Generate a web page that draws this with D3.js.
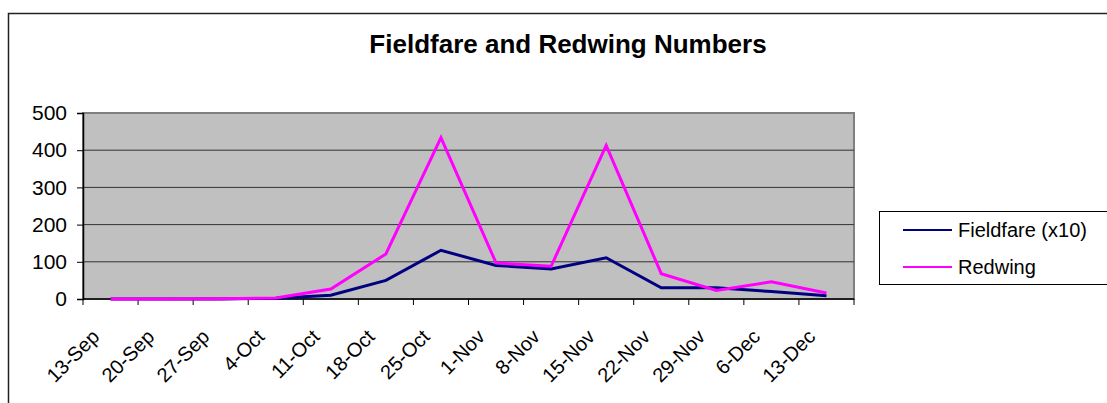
<!DOCTYPE html>
<html>
<head>
<meta charset="utf-8">
<script src="https://cdn.jsdelivr.net/npm/d3@7"></script>
<style>
  body { margin: 0; background: #fff; }
  svg text { font-family: "Liberation Sans", Arial, sans-serif; fill: #000; }
</style>
</head>
<body>
<svg id="chart" width="1107" height="403"></svg>
<script>

// === Data === //

var weeks = ['13-Sep', '20-Sep', '27-Sep', '4-Oct', '11-Oct', '18-Oct', '25-Oct',
	'1-Nov', '8-Nov', '15-Nov', '22-Nov', '29-Nov', '6-Dec', '13-Dec'];

var fieldfare = [0, 0, 0, 2, 10, 50, 131, 90, 81, 111, 30, 30, 20, 9]; // (x10)
var redwing = [0, 0, 1, 3, 27, 121, 434, 97, 88, 413, 68, 23, 46, 16];

var yTicks = [0, 100, 200, 300, 400, 500];

var series = [
	{ name: 'Fieldfare (x10)', values: fieldfare, colour: '#000080' },
	{ name: 'Redwing', values: redwing, colour: '#ff00ff' }
];


// === Layout === //

var plot = { left: 83, right: 854, top: 113, bottom: 299 };

var svg = d3.select('#chart');

// outer chart border (runs off the right and bottom edge)
svg.append('rect')
	.attr('x', 8.5).attr('y', 13.5)
	.attr('width', 1120).attr('height', 420)
	.attr('fill', 'none')
	.attr('stroke', '#222')
	.attr('stroke-width', 1.5);

svg.append('text')
	.attr('x', 568).attr('y', 53)
	.attr('text-anchor', 'middle')
	.style('font-size', '26px')
	.style('font-weight', 'bold')
	.text('Fieldfare and Redwing Numbers');


// === Scales === //

var x = d3.scaleBand()
	.domain(weeks)
	.range([plot.left, plot.right])
	.padding(0);

var y = d3.scaleLinear()
	.domain([0, 500])
	.range([plot.bottom, plot.top]);


// plot background
svg.append('rect')
	.attr('x', plot.left).attr('y', plot.top)
	.attr('width', plot.right - plot.left)
	.attr('height', plot.bottom - plot.top)
	.attr('fill', '#c0c0c0')
	.attr('stroke', '#808080')
	.attr('stroke-width', 2);

// gridlines
svg.append('g')
	.selectAll('line')
	.data(yTicks.filter(function(d) { return d > 0 && d < 500; }))
	.join('line')
	.attr('x1', plot.left).attr('x2', plot.right)
	.attr('y1', function(d) { return y(d); })
	.attr('y2', function(d) { return y(d); })
	.attr('stroke', '#333')
	.attr('stroke-width', 1);


// === Axes === //

var yAxis = svg.append('g')
	.attr('transform', 'translate(' + plot.left + ',0)')
	.call(d3.axisLeft(y).tickValues(yTicks).tickSize(6).tickPadding(10).tickFormat(d3.format('d')));

yAxis.select('.domain').attr('stroke', '#000').attr('stroke-width', 1.5);
yAxis.selectAll('.tick line').attr('stroke', '#000');
yAxis.selectAll('.tick text')
	.style('font-size', '21px')
	.attr('font-family', null);

// x axis: ticks sit on the band edges, labels at band centre
var xg = svg.append('g');

xg.append('line')
	.attr('x1', plot.left).attr('x2', plot.right)
	.attr('y1', plot.bottom).attr('y2', plot.bottom)
	.attr('stroke', '#000').attr('stroke-width', 1.5);

var edges = weeks.map(function(d) { return x(d); }).concat([plot.right]);

xg.selectAll('line.tick')
	.data(edges)
	.join('line')
	.attr('class', 'tick')
	.attr('x1', function(d) { return d; })
	.attr('x2', function(d) { return d; })
	.attr('y1', plot.bottom).attr('y2', plot.bottom + 6)
	.attr('stroke', '#000');

xg.selectAll('text')
	.data(weeks)
	.join('text')
	.attr('text-anchor', 'end')
	.style('font-size', '20px')
	.attr('transform', function(d) {
		var cx = x(d) + x.bandwidth() / 2 - 10;
		return 'translate(' + cx + ',338) rotate(-45)';
	})
	.text(function(d) { return d; });


// === Lines === //

var line = d3.line()
	.x(function(d, i) { return x(weeks[i]) + x.bandwidth() / 2; })
	.y(function(d) { return y(d); });

svg.append('g')
	.selectAll('path')
	.data(series)
	.join('path')
	.attr('d', function(s) { return line(s.values); })
	.attr('fill', 'none')
	.attr('stroke', function(s) { return s.colour; })
	.attr('stroke-width', 3)
	.attr('stroke-linejoin', 'miter');


// === Legend === //

var legend = svg.append('g');

legend.append('rect')
	.attr('x', 879.5).attr('y', 211.5)
	.attr('width', 240).attr('height', 73)
	.attr('fill', '#fff')
	.attr('stroke', '#000')
	.attr('stroke-width', 1);

var rows = legend.selectAll('g.row')
	.data(series)
	.join('g')
	.attr('class', 'row')
	.attr('transform', function(d, i) { return 'translate(0,' + (230 + i * 37) + ')'; });

rows.append('line')
	.attr('x1', 903).attr('x2', 952)
	.attr('stroke', function(d) { return d.colour; })
	.attr('stroke-width', 2);

rows.append('text')
	.attr('x', 958)
	.attr('dy', '0.35em')
	.style('font-size', '20px')
	.text(function(d) { return d.name; });

</script>
</body>
</html>
